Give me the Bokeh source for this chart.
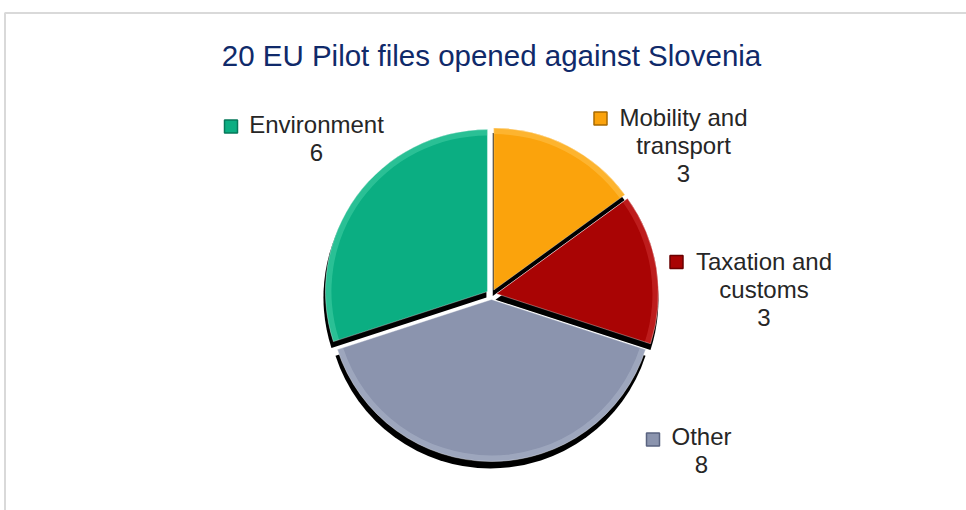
import math
import textwrap
from bokeh.plotting import figure
from bokeh.models import Range1d, ColumnDataSource
from bokeh.core.properties import value
from bokeh.embed import file_html
from bokeh.resources import INLINE

# ---- data ----
categories = ["Mobility and transport", "Taxation and customs", "Other", "Environment"]
counts = [3, 3, 8, 6]
colors = ["#FBA30C", "#A90404", "#8B94AE", "#0BAE82"]
rim_colors = ["#FFC95A", "#D43A3A", "#B4BCD0", "#4FD6AE"]
marker_lines = ["#A86A00", "#6A0000", "#5A6380", "#06785A"]
country = "Slovenia"

W, H = 966, 510
p = figure(width=W, height=H, output_backend="svg", toolbar_location=None,
           x_range=Range1d(0, W), y_range=Range1d(0, H), min_border=0,
           background_fill_color="white", border_fill_color="white")
p.axis.visible = False
p.grid.visible = False
p.outline_line_color = None

def sx(X):
    return X

def sy(Y):
    return H - Y

TITLE_FS = 29.5
LABEL_FS = 24

# frame (light gray border, top and left)
p.segment(x0=[sx(4), sx(4.5)], y0=[sy(12.5), sy(12.5)], x1=[W, sx(4.5)], y1=[sy(12.5), 0],
          line_color="#D9D9D9", line_width=2)

# title
total = sum(counts)
p.text(x=[sx(491)], y=[sy(66 - 0.36 * TITLE_FS)], text=[f"{total} EU Pilot files opened against {country}"],
       text_font=value("Liberation Sans"), text_font_size=f"{TITLE_FS}px", text_color="#102A6A",
       text_align="center", text_baseline="alphabetic")

# pie
cx, cy, r = sx(491), sy(294), 162
explode = 5
starts, ends, xs, ys = [], [], [], []
cum = 0
for c in counts:
    a_end = math.pi / 2 - 2 * math.pi * cum / total
    cum += c
    a_start = math.pi / 2 - 2 * math.pi * cum / total
    mid = (a_start + a_end) / 2
    starts.append(a_start)
    ends.append(a_end)
    xs.append(cx + explode * math.cos(mid))
    ys.append(cy + explode * math.sin(mid))

src = ColumnDataSource(dict(x=xs, y=ys, xsh=[x - 1 for x in xs], ysh=[y - 6 for y in ys],
                            start=starts, end=ends, color=colors, rim=rim_colors,
                            cat=categories, n=counts))

p.wedge(x="xsh", y="ysh", radius=r + 1, start_angle="start", end_angle="end",
        fill_color="black", line_color=None, source=src)
p.wedge(x="x", y="y", radius=r, start_angle="start", end_angle="end",
        fill_color="color", line_color=None, source=src)
p.annular_wedge(x="x", y="y", inner_radius=r - 6, outer_radius=r, start_angle="start",
                end_angle="end", fill_color="rim", fill_alpha=0.45, line_color=None, source=src)
p.wedge(x="x", y="y", radius=r, start_angle="start", end_angle="end",
        fill_color=None, line_color="white", line_alpha=0.35, line_width=1, source=src)

# labels (center x, first baseline y, marker x, marker y) in screen px
label_pos = {
    "Environment": (316, 133, 230.5, 126),
    "Mobility and transport": (683, 126, 600, 118),
    "Taxation and customs": (763.5, 270, 676, 261.5),
    "Other": (701, 445, 652.5, 439),
}
lx, ly, lt = [], [], []
mx, my, mc, ml = [], [], [], []
for cat, n, col, mlc in zip(categories, counts, colors, marker_lines):
    tx, ty, mxx, myy = label_pos[cat]
    lines = textwrap.wrap(cat, 13) + [str(n)]
    for i, line in enumerate(lines):
        lx.append(sx(tx))
        ly.append(sy(ty + 28 * i - 0.36 * LABEL_FS))
        lt.append(line)
    mx.append(sx(mxx))
    my.append(sy(myy))
    mc.append(col)
    ml.append(mlc)

p.scatter(x=mx, y=my, marker="square", size=13, fill_color=mc, line_color=ml, line_width=1.5)
p.text(x=lx, y=ly, text=lt, text_font=value("Liberation Sans"), text_font_size=f"{LABEL_FS}px",
       text_color="#262626", text_align="center", text_baseline="alphabetic")

open("out.html", "w").write(file_html(p, INLINE))
